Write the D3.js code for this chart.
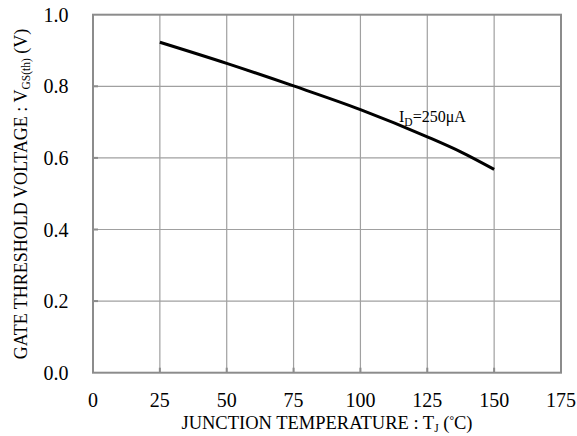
<!DOCTYPE html>
<html><head><meta charset="utf-8">
<script src="https://cdn.jsdelivr.net/npm/d3@7"></script>
<style>body{margin:0;background:#fff}svg{display:block}</style>
</head><body>
<svg id="c" width="577" height="436"></svg>
<script>
const temps = [25, 50, 75, 100, 125, 137.5, 150];
const vth   = [0.923, 0.864, 0.801, 0.735, 0.659, 0.617, 0.568];
const xTicks = [0, 25, 50, 75, 100, 125, 150, 175];
const yTicks = [0.0, 0.2, 0.4, 0.6, 0.8, 1.0];

const svg = d3.select('#c');
const L = 93, R = 561, T = 14.7, B = 372.7;
const x = d3.scaleLinear().domain([0, 175]).range([L, R]);
const y = d3.scaleLinear().domain([0, 1]).range([B, T]);
const grid = '#a0a0a0', frame = '#8c8c8c';
const font = '"Liberation Serif","Times New Roman",serif';

// grid
svg.append('g').selectAll('line').data(xTicks.slice(1, -1)).join('line')
  .attr('x1', d => x(d)).attr('x2', d => x(d)).attr('y1', T).attr('y2', B)
  .attr('stroke', grid).attr('stroke-width', 1.2);
svg.append('g').selectAll('line').data(yTicks.slice(1, -1)).join('line')
  .attr('y1', d => y(d)).attr('y2', d => y(d)).attr('x1', L).attr('x2', R)
  .attr('stroke', grid).attr('stroke-width', 1.2);

// inner ticks
svg.append('g').selectAll('line').data(xTicks.slice(1, -1)).join('line')
  .attr('x1', d => x(d)).attr('x2', d => x(d)).attr('y1', B - 5).attr('y2', B)
  .attr('stroke', frame).attr('stroke-width', 2);
svg.append('g').selectAll('line').data(yTicks.slice(1, -1)).join('line')
  .attr('y1', d => y(d)).attr('y2', d => y(d)).attr('x1', L).attr('x2', L + 5)
  .attr('stroke', frame).attr('stroke-width', 2);

// frame
svg.append('rect').attr('x', L).attr('y', T).attr('width', R - L).attr('height', B - T)
  .attr('fill', 'none').attr('stroke', frame).attr('stroke-width', 2);

// tick labels
svg.append('g').selectAll('text').data(xTicks).join('text')
  .attr('x', d => x(d)).attr('y', 406.5).attr('text-anchor', 'middle')
  .attr('font-family', font).attr('font-size', 20).attr('fill', '#000')
  .text(d => d);
svg.append('g').selectAll('text').data(yTicks).join('text')
  .attr('x', 68.5).attr('y', d => y(d) + 7).attr('text-anchor', 'end')
  .attr('font-family', font).attr('font-size', 20).attr('fill', '#000')
  .text(d => d.toFixed(1));

// curve
const line = d3.line().x((d, i) => x(temps[i])).y(d => y(d)).curve(d3.curveMonotoneX);
svg.append('path').attr('d', line(vth)).attr('fill', 'none')
  .attr('stroke', '#000').attr('stroke-width', 3);

// label
const lab = svg.append('text').attr('x', 399).attr('y', 122)
  .attr('font-family', font).attr('font-size', 16).attr('fill', '#000');
lab.append('tspan').text('I');
lab.append('tspan').attr('font-size', 11.5).attr('dy', 4).text('D');
lab.append('tspan').attr('dy', -4).text('=250μA');

// x title
const xt = svg.append('text').attr('x', 327).attr('y', 429.3).attr('text-anchor', 'middle')
  .attr('font-family', font).attr('font-size', 18.5).attr('fill', '#000');
xt.append('tspan').text('JUNCTION TEMPERATURE : T');
xt.append('tspan').attr('font-size', 11.5).attr('dy', 3).text('J');
xt.append('tspan').attr('dy', -3).text(' (');
xt.append('tspan').attr('font-size', 11.5).attr('dy', -5).text('°');
xt.append('tspan').attr('dy', 5).text('C)');

// y title
const yt = svg.append('text').attr('transform', 'translate(26.5,194) rotate(-90)')
  .attr('text-anchor', 'middle')
  .attr('font-family', font).attr('font-size', 18).attr('fill', '#000');
yt.append('tspan').text('GATE THRESHOLD VOLTAGE : V');
yt.append('tspan').attr('font-size', 11.5).attr('dy', 3).text('GS(th)');
yt.append('tspan').attr('dy', -3).text(' (V)');
</script>
</body></html>
